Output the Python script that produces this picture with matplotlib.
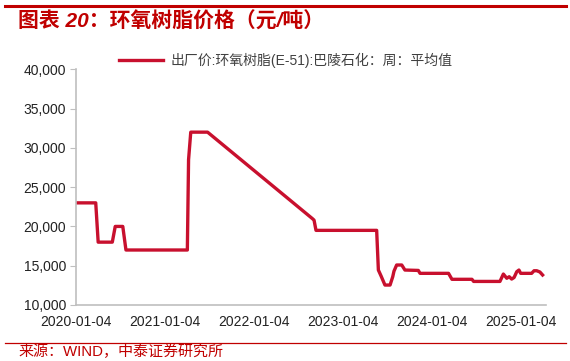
import matplotlib
matplotlib.use("Agg")
import matplotlib.pyplot as plt
import matplotlib.dates as mdates
import pandas as pd

# 出厂价:环氧树脂(E-51):巴陵石化 周均价, 读图估计
dates = ["2020-01-04", "2020-03-25", "2020-04-04", "2020-06-01", "2020-06-13",
         "2020-07-14", "2020-07-27", "2021-04-05", "2021-04-10", "2021-04-19",
         "2021-06-27", "2022-08-31", "2022-09-07", "2022-09-15", "2023-05-22",
         "2023-05-29", "2023-06-09", "2023-06-25", "2023-07-16", "2023-07-27",
         "2023-08-01", "2023-08-12", "2023-09-02", "2023-09-15", "2023-11-09",
         "2023-11-16", "2024-03-12", "2024-03-26", "2024-06-16", "2024-06-23",
         "2024-10-09", "2024-10-23", "2024-11-06", "2024-11-16", "2024-11-26",
         "2024-12-06", "2024-12-17", "2024-12-26", "2025-01-02", "2025-02-16",
         "2025-02-26", "2025-03-09", "2025-03-22", "2025-04-02"]
prices = [23000, 23000, 18000, 18000, 20000,
          20000, 17000, 17000, 28500, 32000,
          32000, 21000, 20800, 19500, 19500,
          14450, 13700, 12540, 12540, 13600,
          14300, 15090, 15090, 14450, 14400,
          14030, 14030, 13270, 13270, 13000,
          13000, 13940, 13400, 13600, 13300,
          13500, 14240, 14450, 14030, 14030,
          14360, 14360, 14200, 13820]

yticks = [10000, 15000, 20000, 25000, 30000, 35000, 40000]
xtick_dates = ["2020-01-04", "2021-01-04", "2022-01-04", "2023-01-04", "2024-01-04", "2025-01-04"]

title = "图表 20：环氧树脂价格（元/吨）"
series_name = "出厂价:环氧树脂(E-51):巴陵石化：周：平均值"
source = "来源：WIND，中泰证券研究所"

red = "#C00000"
line_red = "#C8102E"
fonts = ["Liberation Sans", "Noto Sans CJK SC", "DejaVu Sans"]
plt.rcParams["font.family"] = fonts

fig = plt.figure(figsize=(5.7, 3.61), dpi=100)
ax = fig.add_axes([76 / 570, 1 - 305 / 361, (546 - 76) / 570, (305 - 69.3) / 361])

x = pd.to_datetime(dates)
ax.plot(x, prices, color=line_red, lw=2.4, label=series_name, solid_joinstyle="round")

ax.set_ylim(10000, 40000)
ax.set_yticks(yticks)
ax.set_yticklabels(["{:,}".format(v) for v in yticks])
ax.set_xlim(pd.Timestamp("2020-01-04"), pd.Timestamp("2025-04-16"))
ax.set_xticks(pd.to_datetime(xtick_dates))
ax.xaxis.set_major_formatter(mdates.DateFormatter("%Y-%m-%d"))

for s in ["top", "right"]:
    ax.spines[s].set_visible(False)
for s in ["left", "bottom"]:
    ax.spines[s].set_color("#BFBFBF")
    ax.spines[s].set_linewidth(1.2)
ax.tick_params(axis="y", length=4, color="#BFBFBF", labelsize=10, labelcolor="#222222", pad=3)
ax.tick_params(axis="x", length=0, labelsize=10, labelcolor="#222222", pad=7)

fig.legend(loc="center left", bbox_to_anchor=(119 / 570, 1 - 60.5 / 361), frameon=False,
           handlelength=3.2, handletextpad=0.5, borderpad=0, borderaxespad=0,
           prop={"family": fonts, "size": 10}, labelcolor="#404040")

# 页眉页脚
fig.add_artist(plt.Line2D([5 / 570, 566 / 570], [1 - 6 / 361] * 2, color=red, lw=2.2))
fig.add_artist(plt.Line2D([5 / 570, 566 / 570], [1 - 342.5 / 361] * 2, color=red, lw=0.9))
fig.text(18 / 570, 1 - 22 / 361, title, color=red, fontsize=15, fontweight="bold",
         fontstyle="italic", va="center", ha="left", family=fonts)
fig.text(18 / 570, 1 - 351 / 361, source, color=red, fontsize=10.8, va="center", ha="left",
         family=fonts)

fig.savefig("out.png", dpi=100)
